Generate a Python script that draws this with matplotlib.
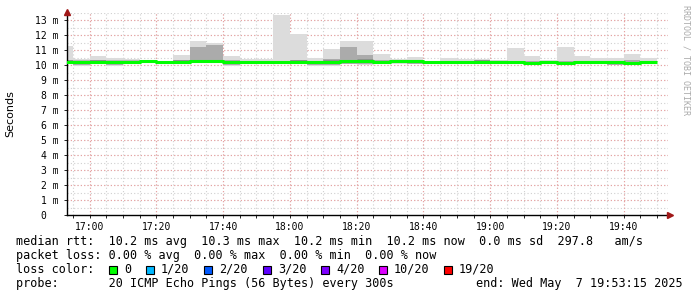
import matplotlib
matplotlib.use('Agg')
import matplotlib.pyplot as plt
from matplotlib.patches import Rectangle

W, H = 697, 297
MONO = 'DejaVu Sans Mono'

# 5 minute bins (start time), values in ms
bin_times = ['16:50', '16:55', '17:00', '17:05', '17:10', '17:15', '17:20', '17:25',
             '17:30', '17:35', '17:40', '17:45', '17:50', '17:55', '18:00', '18:05',
             '18:10', '18:15', '18:20', '18:25', '18:30', '18:35', '18:40', '18:45',
             '18:50', '18:55', '19:00', '19:05', '19:10', '19:15', '19:20', '19:25',
             '19:30', '19:35', '19:40', '19:45']
rtt_max = [11.3, 10.4, 10.6, 10.45, 10.4, 10.35, 10.3, 10.67, 11.6, 11.5, 10.6, 10.4,
           10.4, 13.33, 12.1, 10.5, 11.05, 11.6, 11.6, 10.73, 10.38, 10.55, 10.3, 10.5,
           10.4, 10.4, 10.3, 11.15, 10.6, 10.33, 11.2, 10.6, 10.45, 10.5, 10.75, 10.45]
rtt_min = [10.1, 9.95, 10.05, 9.95, 10.1, 10.2, 10.1, 10.1, 10.15, 10.15, 9.95, 10.05,
           10.05, 10.1, 10.05, 9.95, 9.95, 10.05, 10.0, 10.05, 10.05, 10.05, 10.1, 10.05,
           10.1, 10.1, 10.1, 10.1, 10.0, 10.05, 10.0, 10.05, 10.05, 10.0, 10.05, 10.1]
rtt_hi = [10.35, 10.3, 10.35, 10.3, 10.3, 10.3, 10.25, 10.35, 11.2, 11.35, 10.35, 10.3,
          10.3, 10.3, 10.35, 10.3, 10.4, 11.2, 10.7, 10.35, 10.35, 10.35, 10.25, 10.3,
          10.3, 10.35, 10.3, 10.3, 10.3, 10.25, 10.3, 10.3, 10.3, 10.3, 10.35, 10.3]
rtt_lo = [10.15, 10.0, 10.1, 9.98, 10.15, 10.2, 10.15, 10.15, 10.2, 10.2, 10.0, 10.1,
          10.1, 10.15, 10.1, 10.0, 10.0, 10.1, 10.05, 10.1, 10.15, 10.1, 10.15, 10.1,
          10.15, 10.15, 10.15, 10.15, 10.03, 10.1, 10.03, 10.1, 10.1, 10.03, 10.1, 10.15]
rtt_med = [10.2, 10.2, 10.2, 10.2, 10.2, 10.28, 10.2, 10.2, 10.28, 10.28, 10.2, 10.2,
           10.2, 10.18, 10.2, 10.17, 10.2, 10.3, 10.25, 10.17, 10.3, 10.25, 10.2, 10.2,
           10.2, 10.22, 10.22, 10.2, 10.15, 10.17, 10.15, 10.17, 10.17, 10.17, 10.15, 10.2]
# densest smoke just above the median (None = not visible)
rtt_dark = [10.28, 10.28, 10.28, 10.28, 10.28, None, None, 10.28, None, None, None, None,
            None, None, 10.28, None, 10.28, None, 10.33, None, None, None, None, None,
            None, 10.3, 10.3, None, None, None, None, None, None, None, None, None]

x_ticks = ['17:00', '17:20', '17:40', '18:00', '18:20', '18:40', '19:00', '19:20', '19:40']
y_ticks = list(range(14))
y_labels = ['0  '] + ['%d m' % v for v in range(1, 14)]
start_time, end_time = '16:53:15', '19:53:15'

loss_labels = ['0', '1/20', '2/20', '3/20', '4/20', '10/20', '19/20']
loss_colors = ['#00ff00', '#00b8ff', '#0059ff', '#5e00ff', '#7e00ff', '#dd00ff', '#ff0000']

text_lines = [
    'median rtt:  10.2 ms avg  10.3 ms max  10.2 ms min  10.2 ms now  0.0 ms sd  297.8   am/s',
    'packet loss: 0.00 % avg  0.00 % max  0.00 % min  0.00 % now',
    'loss color:',
    'probe:       20 ICMP Echo Pings (56 Bytes) every 300s',
]
end_text = 'end: Wed May  7 19:53:15 2025'


def minutes(t):
    parts = [int(p) for p in t.split(':')]
    m = (parts[0] - 16) * 60 + parts[1]
    if len(parts) > 2:
        m += parts[2] / 60
    return m


xs = [minutes(t) for t in bin_times]
x0, x1 = minutes(start_time), minutes(end_time)

fig = plt.figure(figsize=(W / 100, H / 100), dpi=100, facecolor='white')
ax = fig.add_axes([67 / W, (H - 215) / H, 601 / W, 201.7 / H])
ax.set_xlim(x0, x1)
ax.set_ylim(0, 13.45)

# grid
for m in range(55, 235, 5):
    ax.axvline(m, color='#d0d0d0', lw=0.8, ls=(0, (1, 2)), zorder=0)
for v in [i * 0.5 + 0.5 for i in range(27)]:
    ax.axhline(v, color='#d0d0d0', lw=0.8, ls=(0, (1, 2)), zorder=0)
for t in x_ticks:
    ax.axvline(minutes(t), color='#eba0a0', lw=0.8, ls=(0, (1, 2)), zorder=0.5)
for v in y_ticks[1:]:
    ax.axhline(v, color='#eba0a0', lw=0.8, ls=(0, (1, 2)), zorder=0.5)

# smoke
ax.bar(xs, [a - b for a, b in zip(rtt_max, rtt_min)], bottom=rtt_min, width=5,
       align='edge', color='#dcdcdc', lw=0, zorder=2)
ax.bar(xs, [a - b for a, b in zip(rtt_hi, rtt_lo)], bottom=rtt_lo, width=5,
       align='edge', color='#ababab', lw=0, zorder=2)
for xv, d in zip(xs, rtt_dark):
    if d is not None:
        ax.hlines(d, xv, xv + 5, color='#202020', lw=1.0, zorder=3)

# median line
ax.step(xs + [xs[-1] + 5], rtt_med + [rtt_med[-1]], where='post',
        color='#00ff00', lw=2.2, zorder=4, solid_capstyle='butt')

ax.set_xticks([minutes(t) for t in x_ticks])
ax.set_xticklabels(x_ticks, family=MONO, fontsize=7)
ax.set_xticks(range(55, 235, 5), minor=True)
ax.set_yticks(y_ticks)
ax.set_yticklabels(y_labels, family=MONO, fontsize=7)
ax.tick_params(axis='x', which='both', length=2, width=0.6, pad=3)
ax.tick_params(axis='y', length=2, width=0.6, pad=4)

for s in ['top', 'right']:
    ax.spines[s].set_visible(False)
ax.spines['left'].set_linewidth(1)
ax.spines['bottom'].set_linewidth(1)
ax.plot([0], [1.005], marker='^', ms=4, color='#a01818', transform=ax.transAxes,
        clip_on=False, zorder=5)
ax.plot([1.004], [0], marker='>', ms=4, color='#a01818', transform=ax.transAxes,
        clip_on=False, zorder=5)

fig.text(10 / W, 1 - 114 / H, 'Seconds', rotation=90, ha='center', va='center', fontsize=8)
fig.text(686 / W, 1 - 5 / H, 'RRDTOOL / TOBI OETIKER', rotation=270, ha='center',
         va='top', fontsize=6, color='#aaaaaa', family=MONO)

line_y = [241, 255.5, 269.5, 283.5]
for txt, y in zip(text_lines, line_y):
    fig.text(16 / W, 1 - y / H, txt, ha='left', va='center', fontsize=8.5, family=MONO)
fig.text(476 / W, 1 - line_y[3] / H, end_text, ha='left', va='center', fontsize=8.5,
         family=MONO)

sq_x = [109, 146, 204, 263, 321, 379, 444]
for sx, lab, col in zip(sq_x, loss_labels, loss_colors):
    fig.add_artist(Rectangle((sx / W, 1 - 273.5 / H), 8 / W, 8 / H, transform=fig.transFigure,
                             fc=col, ec='black', lw=0.8))
    fig.text((sx + 15) / W, 1 - line_y[2] / H, lab, ha='left', va='center', fontsize=8.5,
             family=MONO)

fig.savefig('out.png', dpi=100)
